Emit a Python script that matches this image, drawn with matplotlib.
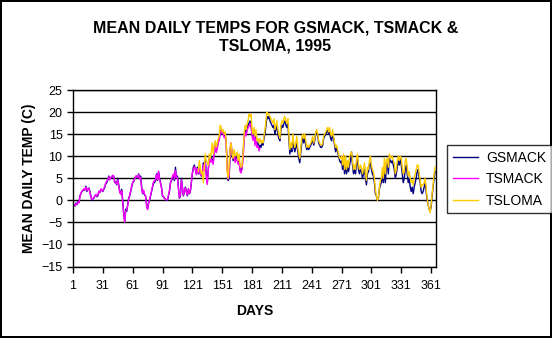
import numpy as np
import matplotlib.pyplot as plt

plt.rcParams['font.family'] = ['Liberation Sans', 'DejaVu Sans']

# mean daily temps (deg C)
gsmack = [
    -1.2, -1.0, -1.3, -0.6, -1.0, -0.2, -0.5, 1.0, 1.5, 2.0,
    2.2, 2.5, 2.3, 3.2, 2.0, 2.6, 2.8, 2.0, 1.0, 0.0,
    0.3, 0.5, 1.0, 1.2, 0.8, 1.0, 2.0, 1.8, 2.5, 2.2,
    2.0, 2.5, 3.0, 3.8, 4.0, 4.6, 5.5, 4.8, 5.0, 5.2,
    5.6, 5.5, 4.0, 4.2, 3.5, 5.0, 3.5, 2.0, 1.5, 2.5,
    0.0, -3.0, -4.8, -2.0, -2.5, -1.0, 0.5, 1.0, 2.0, 3.0,
    4.0, 4.2, 5.0, 5.3, 5.5, 5.0, 6.0, 5.0, 5.5, 3.0,
    1.5, 2.0, 1.2, 1.0, -1.0, -2.0, -0.5, 0.0, 1.0, 2.0,
    3.0, 4.0, 4.0, 4.5, 6.0, 4.5, 6.5, 5.0, 4.0, 3.0,
    1.0, 0.8, 0.5, 0.3, 0.0, 0.0, 1.0, 2.0, 4.0, 4.5,
    5.0, 5.5, 4.5, 7.5, 5.0, 5.5, 3.0, 0.5, 1.0, 5.0,
    3.0, 1.0, 2.0, 3.0, 2.0, 1.0, 2.5, 1.5, 2.0, 4.0,
    6.0, 7.5, 8.0, 7.0, 6.0, 7.5, 6.0, 7.0, 6.0, 5.5,
    6.0, 8.5, 7.0, 9.0, 6.0, 4.0, 7.0, 10.0, 9.0, 10.0,
    9.0, 8.5, 12.0, 13.0, 11.0, 12.0, 13.5, 14.0, 15.5, 16.0,
    15.0, 15.5, 14.5, 15.0, 13.0, 8.0, 4.5, 5.0, 11.0, 12.5,
    10.0, 9.0, 11.0, 9.0, 9.5, 10.0, 8.5, 9.0, 7.0, 6.5,
    7.5, 10.0, 14.0, 16.0, 15.0, 16.5, 17.0, 17.5, 18.0, 17.0,
    15.0, 14.0, 15.5, 13.0, 15.0, 12.5, 13.0, 11.5, 12.5, 12.0,
    13.0, 12.5, 14.0, 15.0, 17.0, 19.0, 18.5, 19.0, 18.0, 17.5,
    17.0, 16.5, 17.0, 15.0, 16.0, 17.0, 15.0, 14.0, 13.5, 16.0,
    17.0, 16.5, 17.5, 18.0, 17.0, 16.5, 17.5, 14.0, 10.5, 12.0,
    11.0, 14.0, 12.0, 11.0, 12.0, 13.0, 11.0, 9.5, 8.5, 11.0,
    13.0, 14.5, 13.0, 14.5, 12.5, 11.5, 12.0, 11.5, 12.0, 12.5,
    13.0, 14.0, 12.5, 13.5, 15.0, 15.5, 14.5, 13.0, 12.5, 12.0,
    12.0, 12.5, 14.0, 14.5, 15.0, 15.5, 16.0, 15.0, 15.5, 14.0,
    13.5, 15.0, 14.0, 12.5, 11.0, 12.0, 11.0, 10.0, 9.0, 8.5,
    9.0, 7.0, 8.5, 6.0, 8.0, 6.0, 7.5, 6.5, 8.0, 9.0,
    11.0, 8.0, 6.0, 7.0, 6.0, 8.0, 9.5, 7.0, 6.0, 7.0,
    6.5, 5.0, 6.0, 7.5, 5.0, 3.5, 6.0, 6.5, 8.0, 8.5,
    7.0, 6.0, 5.5, 4.0, 1.5, 1.0, 0.0, 0.5, 2.5, 3.5,
    4.0, 6.0, 4.0, 7.0, 4.0, 7.5, 8.5, 6.0, 9.5, 9.0,
    8.5, 9.0, 8.0, 7.0, 5.0, 6.0, 7.5, 9.0, 8.0, 9.5,
    8.0, 6.0, 4.0, 5.0, 7.0, 8.0, 6.0, 4.0, 5.0, 3.0,
    2.0, 3.0, 1.5, 3.0, 4.0, 5.0, 6.5, 7.0, 5.0, 4.0,
    2.0, 1.5, 2.0, 3.0, 4.0, 2.0, 0.0, -1.0, -2.0, -2.5,
    -1.5, 1.0, 3.0, 5.0, 6.5,
]

# TSMACK runs from day 1 to day 189
tsmack = [
    -1.4, -1.0, -1.2, -0.8, -0.9, -0.4, -0.6, 0.8, 1.6, 2.1,
    2.3, 2.6, 2.4, 3.0, 2.2, 2.5, 2.7, 1.8, 0.8, 0.2,
    0.4, 0.6, 1.1, 1.3, 0.9, 1.2, 2.1, 1.7, 2.6, 2.4,
    2.1, 2.7, 3.2, 4.0, 4.3, 4.8, 5.3, 4.6, 5.2, 5.4,
    5.7, 5.2, 4.2, 4.0, 3.7, 4.6, 3.3, 1.8, 1.4, 2.2,
    -0.4, -3.2, -5.0, -2.4, -2.2, -1.2, 0.3, 1.1, 2.2, 3.2,
    4.1, 4.4, 4.8, 5.5, 5.4, 5.2, 5.8, 4.8, 5.2, 2.8,
    1.6, 2.3, 1.4, 0.8, -1.2, -2.1, -0.8, 0.2, 1.2, 2.2,
    3.2, 4.2, 4.4, 4.8, 5.8, 4.7, 6.6, 4.8, 3.8, 2.8,
    1.2, 0.9, 0.4, 0.2, 0.1, 0.2, 1.2, 2.3, 3.8, 4.8,
    5.4, 6.0, 4.8, 6.8, 5.2, 5.2, 2.6, 0.6, 1.3, 4.6,
    2.8, 1.2, 2.2, 2.8, 1.8, 1.2, 2.7, 1.6, 2.2, 4.2,
    6.2, 7.0, 7.6, 7.2, 5.8, 7.2, 6.2, 7.2, 5.8, 5.6,
    6.2, 8.0, 6.6, 8.6, 5.4, 3.6, 6.6, 9.6, 8.6, 9.4,
    8.6, 8.2, 11.4, 12.6, 10.8, 11.6, 13.0, 13.6, 15.0, 15.8,
    15.2, 15.0, 14.2, 14.6, 12.6, 7.6, 4.8, 5.6, 12.0, 13.0,
    10.4, 9.4, 10.6, 8.6, 9.0, 9.6, 8.2, 8.6, 6.6, 6.2,
    7.2, 9.6, 13.6, 15.4, 14.6, 15.8, 16.4, 16.8, 17.4, 16.6,
    14.6, 13.6, 14.8, 12.4, 14.2, 12.0, 12.4, 11.2, 11.8,
]

# TSLOMA runs from day 127 to day 365
tsloma = [
    6.5, 9.0, 7.5, 6.0,
    6.5, 4.0, 7.5, 10.5, 9.0, 8.5, 8.0, 10.5, 9.5, 11.0,
    13.0, 10.5, 12.5, 13.5, 12.0, 13.0, 14.0, 14.5, 17.0, 16.5,
    15.5, 16.0, 15.0, 15.5, 13.5, 6.5, 5.0, 8.0, 12.0, 13.0,
    10.5, 9.5, 11.5, 10.0, 10.5, 11.0, 9.0, 10.5, 8.0, 7.5,
    8.0, 11.0, 15.0, 17.0, 16.0, 17.5, 18.0, 19.5, 19.0, 19.5,
    16.0, 15.0, 16.5, 14.5, 16.0, 13.5, 14.0, 13.0, 14.0, 13.0,
    13.5, 13.0, 14.5, 16.0, 18.0, 20.0, 19.5, 19.5, 19.0, 18.5,
    18.0, 17.5, 18.5, 16.0, 17.0, 18.0, 16.0, 15.0, 14.0, 17.0,
    18.0, 17.5, 18.5, 19.0, 18.0, 17.5, 18.5, 15.0, 11.5, 13.0,
    12.0, 15.0, 13.0, 12.0, 13.0, 14.5, 12.0, 10.5, 9.5, 12.0,
    14.0, 15.0, 14.0, 15.0, 13.5, 12.0, 12.5, 12.0, 12.5, 13.0,
    13.5, 14.5, 13.0, 14.0, 15.5, 16.0, 15.0, 13.5, 13.0, 12.5,
    12.5, 13.0, 14.5, 15.0, 15.5, 16.0, 16.5, 15.5, 16.5, 15.0,
    14.5, 16.0, 14.5, 13.0, 12.0, 12.5, 11.5, 10.5, 9.5, 9.5,
    10.0, 8.0, 10.5, 7.0, 10.0, 7.0, 9.0, 7.5, 10.0, 10.5,
    11.0, 9.0, 7.0, 8.0, 7.0, 9.5, 10.5, 8.0, 7.0, 8.0,
    7.5, 6.0, 7.0, 8.5, 6.0, 4.5, 7.5, 7.0, 9.0, 10.0,
    8.0, 7.0, 6.5, 5.0, 2.5, 1.0, 0.0, 0.5, 3.0, 4.5,
    5.0, 7.5, 5.0, 9.5, 6.0, 9.0, 9.5, 7.5, 10.5, 10.0,
    9.5, 10.0, 9.0, 8.5, 6.0, 7.0, 9.0, 10.0, 9.0, 10.0,
    9.5, 7.5, 6.0, 6.5, 9.0, 9.5, 7.5, 5.5, 6.5, 5.0,
    4.0, 4.5, 3.5, 5.0, 6.0, 7.0, 8.0, 8.0, 6.0, 4.5,
    3.0, 3.5, 3.5, 4.0, 5.0, 3.0, 0.5, -1.0, -2.0, -2.8,
    -1.0, 1.5, 3.5, 6.0, 7.5,
]

days_gs = np.arange(1, len(gsmack) + 1)
days_ts = np.arange(1, len(tsmack) + 1)
days_lo = np.arange(365 - len(tsloma) + 1, 366)

fig = plt.figure(figsize=(5.52, 3.38), dpi=100)
fig.patch.set_edgecolor('black')
fig.patch.set_linewidth(1.5)
ax = fig.add_axes([0.1322, 0.2115, 0.6578, 0.5222])

ax.plot(days_gs, gsmack, color='#000080', lw=1.0, label='GSMACK')
ax.plot(days_ts, tsmack, color='#FF00FF', lw=1.0, label='TSMACK')
ax.plot(days_lo, tsloma, color='#FFCC00', lw=1.0, label='TSLOMA')

ax.set_xlim(1, 366)
ax.set_ylim(-15, 25)
ax.set_xticks(np.arange(1, 362, 30))
ax.set_yticks(np.arange(-15, 26, 5))
ax.yaxis.grid(True, color='black', lw=1.0)
ax.set_axisbelow(True)
ax.tick_params(direction='out', length=4, width=1, labelsize=9, colors='black')
ax.tick_params(axis='x', pad=6)
for s in ax.spines.values():
    s.set_color('black')
    s.set_linewidth(1.0)

ax.set_xlabel('DAYS', fontsize=10, fontweight='bold', labelpad=8)
ax.set_ylabel('MEAN DAILY TEMP (C)', fontsize=10, fontweight='bold', labelpad=4)

fig.text(0.499, 0.892, 'MEAN DAILY TEMPS FOR GSMACK, TSMACK &\nTSLOMA, 1995',
         ha='center', va='center', fontsize=11.5, fontweight='bold', linespacing=1.25)

leg = ax.legend(loc='upper left', bbox_to_anchor=(0.81, 0.571),
                bbox_transform=fig.transFigure, fontsize=10, frameon=True,
                fancybox=False, handlelength=1.8, borderpad=0.4,
                labelspacing=0.55, handletextpad=0.6, borderaxespad=0)
leg.get_frame().set_edgecolor('black')
leg.get_frame().set_linewidth(1.0)

plt.savefig('out.png', dpi=100)
